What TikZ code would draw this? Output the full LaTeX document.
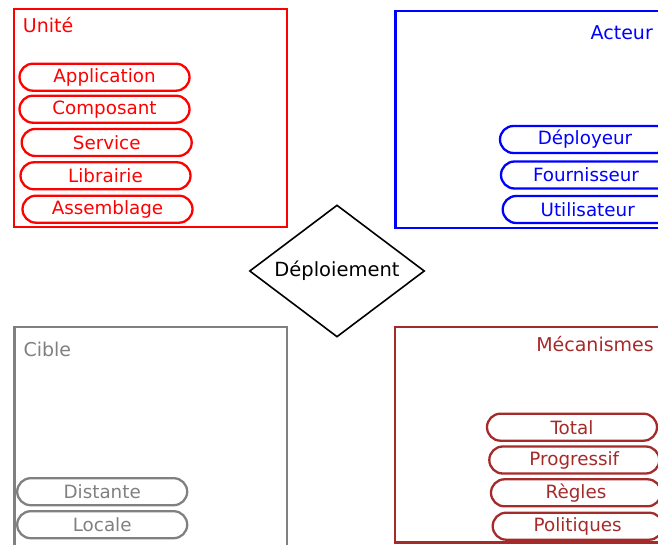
\documentclass[tikz,border=0pt]{standalone}
\usepackage{fontspec}
\setmainfont{DejaVu Sans}
\usepackage{tikz}
\usetikzlibrary{shapes.geometric}

\definecolor{mecabrun}{RGB}{165,42,42}

\begin{document}
\begin{tikzpicture}[x=1pt,y=-1pt,
    pill/.style={draw, line width=2.3pt, rounded corners=13.5pt, minimum width=170pt,
      minimum height=27pt, inner sep=0pt, font=\fontsize{18.3}{20}\selectfont},
    cadre/.style={line width=2.3pt},
    titre/.style={inner sep=0pt, font=\fontsize{19}{21}\selectfont}]
  \clip (0,0) rectangle (658,545);
  % Unite
  \draw [cadre, red] (14,9) rectangle (287,227);
  \node [titre, red, anchor=base west] (unite) at (22.7,33) {Unité};
  \node [pill, red] (appli) at (104.5,77.2) {Application};
  \node [pill, red] (compo) at (104.5,109.2) {Composant};
  \node [pill, red] (serv) at (106.7,142.5) {Service};
  \node [pill, red] (libr) at (105.5,175.8) {Librairie};
  \node [pill, red] (assem) at (107.5,209.2) {Assemblage};
  % Acteur
  \draw [cadre, blue] (395.5,11) rectangle (700,228);
  \node [titre, blue, anchor=base east] (acteur) at (653,40) {Acteur};
  \node [pill, blue] (deploy) at (585,139.5) {Déployeur};
  \node [pill, blue] (fourn) at (586,175) {Fournisseur};
  \node [pill, blue] (util) at (587.7,209.5) {Utilisateur};
  % Cible
  \draw [cadre, gray] (14.5,327) rectangle (287,560);
  \node [titre, gray, anchor=base west] (cible) at (23.3,356.7) {Cible};
  \node [pill, gray] (dist) at (102.2,491.7) {Distante};
  \node [pill, gray] (loc) at (102.2,524.7) {Locale};
  % Mecanismes
  \draw [cadre, mecabrun] (395,327) rectangle (700,542.5);
  \node [titre, mecabrun, anchor=base east] (meca) at (654,351.7) {Mécanismes};
  \node [pill, mecabrun] (total) at (572,427.2) {Total};
  \node [pill, mecabrun] (progr) at (574.3,460) {Progressif};
  \node [pill, mecabrun] (regles) at (576,492.8) {Règles};
  \node [pill, mecabrun] (polit) at (577.7,526.2) {Politiques};
  % centre
  \node [draw, diamond, line width=1.6pt, aspect=1.33, inner sep=0pt,
    minimum width=175pt, minimum height=132pt,
    font=\fontsize{19.5}{21}\selectfont] (deploiement) at (337,271) {Déploiement};
\end{tikzpicture}
\end{document}
